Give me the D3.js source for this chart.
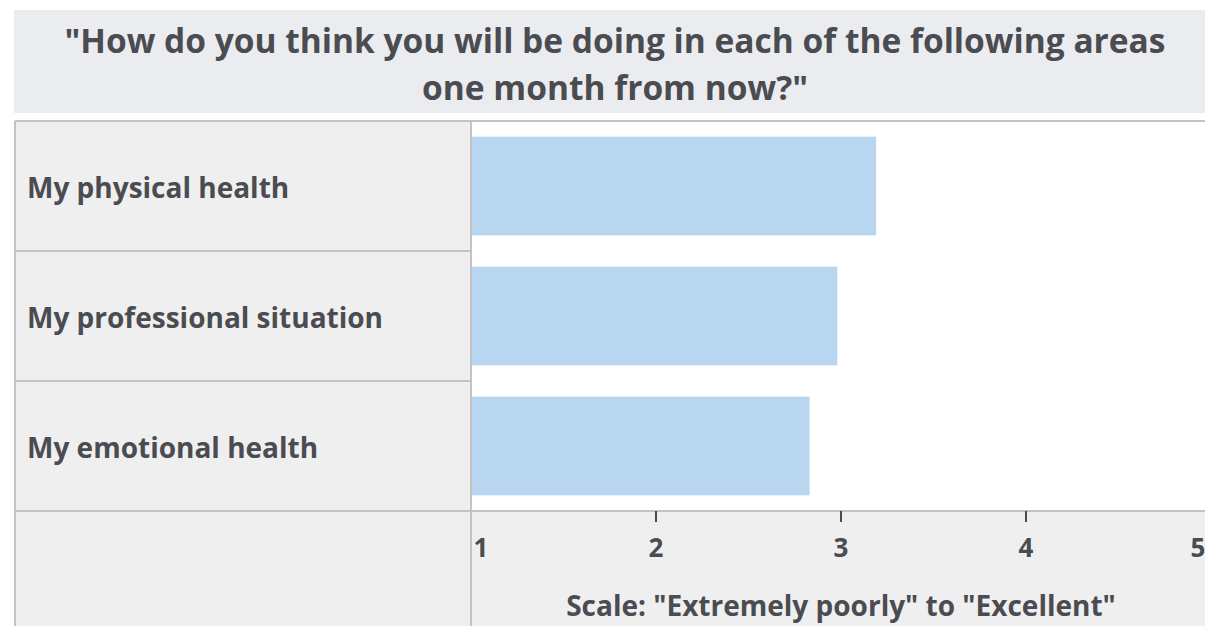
<!DOCTYPE html>
<html lang="en">
<head>
    <meta charset="UTF-8">
    <title>One month from now</title>
    <script src="https://d3js.org/d3.v7.min.js"></script>
    <style>
        body { margin: 0; background: #fff; }
        text { font-family: "Open Sans", "Noto Sans", sans-serif; font-weight: bold; fill: #4a4c51; }
    </style>
</head>
<body>
<div id="chart"></div>
<script>
    const titleLines = ["\"How do you think you will be doing in each of the following areas", "one month from now?\""];
    const categories = ["My physical health", "My professional situation", "My emotional health"];
    const values = [3.19, 2.98, 2.83];
    const ticks = [1, 2, 3, 4, 5];
    const axisTitle = "Scale: \"Extremely poorly\" to \"Excellent\"";

    const W = 1205, H = 626;
    const leftX = 15, split = 471, topY = 121, rowH = 130;
    const plotBottom = topY + rowH * categories.length;

    const svg = d3.select("#chart").append("svg")
        .attr("width", W).attr("height", H);

    // title band
    svg.append("rect").attr("x", 14).attr("y", 10).attr("width", W - 14).attr("height", 103).attr("fill", "#ebecef");
    svg.selectAll(".title").data(titleLines).join("text")
        .attr("x", 615).attr("y", (d, i) => 53 + i * 47)
        .attr("text-anchor", "middle").attr("font-size", 33.5)
        .text(d => d);

    const x = d3.scaleLinear().domain([1, 5]).range([split, 1211]);
    const y = d3.scaleBand().domain(categories).range([topY, plotBottom]).paddingInner(0.24).paddingOuter(0.12);

    // backgrounds
    svg.append("rect").attr("x", leftX).attr("y", topY).attr("width", split - leftX).attr("height", H - topY).attr("fill", "#efefef");
    svg.append("rect").attr("x", split).attr("y", plotBottom).attr("width", W - split).attr("height", H - plotBottom).attr("fill", "#efefef");

    // bars
    svg.selectAll(".bar").data(values).join("rect")
        .attr("x", split + 1)
        .attr("y", (d, i) => y(categories[i]))
        .attr("width", d => x(d) - split - 1)
        .attr("height", y.bandwidth())
        .attr("fill", "#b9d6f0");

    // category labels
    svg.selectAll(".cat").data(categories).join("text")
        .attr("x", 27)
        .attr("y", d => y(d) + y.bandwidth() / 2 + 12)
        .attr("font-size", 28)
        .text(d => d);

    // grid lines
    const gridColor = "#c3c3c3";
    svg.append("line").attr("x1", leftX).attr("x2", W).attr("y1", topY).attr("y2", topY).attr("stroke", gridColor).attr("stroke-width", 2);
    svg.append("line").attr("x1", leftX).attr("x2", leftX).attr("y1", topY).attr("y2", H).attr("stroke", gridColor).attr("stroke-width", 2);
    svg.append("line").attr("x1", split).attr("x2", split).attr("y1", topY).attr("y2", H).attr("stroke", gridColor).attr("stroke-width", 2);
    svg.selectAll(".row").data(d3.range(1, categories.length + 1)).join("line")
        .attr("x1", leftX).attr("x2", d => d === categories.length ? W : split)
        .attr("y1", d => topY + d * rowH).attr("y2", d => topY + d * rowH)
        .attr("stroke", gridColor).attr("stroke-width", 2);

    // x axis
    svg.selectAll(".tick").data(ticks.slice(1, -1)).join("line")
        .attr("x1", d => x(d)).attr("x2", d => x(d))
        .attr("y1", plotBottom).attr("y2", plotBottom + 11)
        .attr("stroke", "#4a4c51").attr("stroke-width", 2);
    svg.selectAll(".tlab").data(ticks).join("text")
        .attr("x", d => Math.min(Math.max(x(d), split + 10), W - 7))
        .attr("y", 557)
        .attr("text-anchor", "middle").attr("font-size", 26)
        .text(d => d);
    svg.append("text")
        .attr("x", x(3)).attr("y", 616)
        .attr("text-anchor", "middle").attr("font-size", 28)
        .text(axisTitle);
</script>
</body>
</html>
